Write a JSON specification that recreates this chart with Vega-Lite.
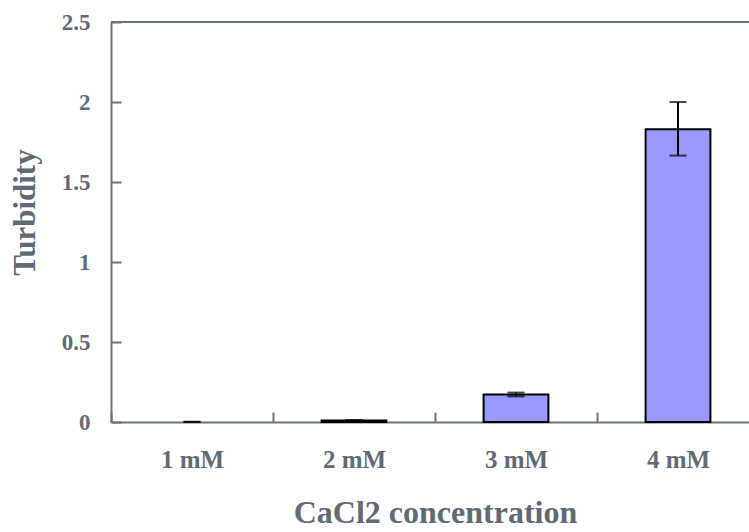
{
  "$schema": "https://vega.github.io/schema/vega-lite/v6.json",
  "width": 640,
  "height": 400,
  "autosize": {"type": "none"},
  "padding": {"left": 111, "top": 22, "right": 0, "bottom": 110},
  "background": "white",
  "config": {
    "view": {"stroke": null},
    "font": "Liberation Serif",
    "axis": {
      "domainColor": "#6b7580",
      "domainWidth": 2,
      "tickColor": "#6b7580",
      "tickWidth": 2,
      "grid": false,
      "labelFont": "Liberation Serif",
      "labelFontWeight": "bold",
      "labelColor": "#606b76",
      "titleFont": "Liberation Serif",
      "titleFontWeight": "bold",
      "titleColor": "#606b76"
    }
  },
  "data": {
    "values": [
      {"conc": "1 mM", "turbidity": null, "lo": 0.001, "hi": 0.001},
      {"conc": "2 mM", "turbidity": 0.01, "lo": 0.008, "hi": 0.012},
      {"conc": "3 mM", "turbidity": 0.172, "lo": 0.16, "hi": 0.184},
      {"conc": "4 mM", "turbidity": 1.83, "lo": 1.665, "hi": 2.0}
    ]
  },
  "layer": [
    {
      "mark": {"type": "bar", "color": "#9999ff", "stroke": "black", "strokeWidth": 2},
      "encoding": {
        "x": {
          "field": "conc", "type": "nominal", "sort": ["1 mM", "2 mM", "3 mM", "4 mM"],
          "scale": {"domain": ["1 mM", "2 mM", "3 mM", "4 mM"], "paddingInner": 0.6, "paddingOuter": 0.3, "range": [0, 648]},
          "axis": {
            "title": "CaCl2 concentration", "titleFontSize": 32, "titlePadding": 25,
            "labelFontSize": 25, "labelAngle": 0, "labelPadding": 35, "labelOffset": 81,
            "tickOffset": -81, "tickSize": -10
          }
        },
        "y": {
          "field": "turbidity", "type": "quantitative",
          "scale": {"domain": [0, 2.5], "nice": false},
          "axis": {
            "title": "Turbidity", "titleFontSize": 31, "titlePadding": 20, "titleY": 190,
            "labelFontSize": 23, "labelPadding": 31, "values": [0, 0.5, 1, 1.5, 2, 2.5],
            "format": "~g", "tickSize": -10
          }
        }
      }
    },
    {
      "mark": {"type": "errorbar", "ticks": {"size": 17, "thickness": 2, "color": "black"}, "rule": {"strokeWidth": 2, "color": "black"}},
      "encoding": {
        "x": {
          "field": "conc", "type": "nominal", "sort": ["1 mM", "2 mM", "3 mM", "4 mM"],
          "axis": {
            "title": "CaCl2 concentration", "titleFontSize": 32, "titlePadding": 25,
            "labelFontSize": 25, "labelAngle": 0, "labelPadding": 35, "labelOffset": 81,
            "tickOffset": -81, "tickSize": -10
          }
        },
        "y": {
          "field": "lo", "type": "quantitative",
          "axis": {
            "title": "Turbidity", "titleFontSize": 31, "titlePadding": 20, "titleY": 190,
            "labelFontSize": 23, "labelPadding": 31, "values": [0, 0.5, 1, 1.5, 2, 2.5],
            "format": "~g", "tickSize": -10
          }
        },
        "y2": {"field": "hi"}
      }
    },
    {
      "mark": {"type": "rule", "color": "#6b7580", "strokeWidth": 2},
      "encoding": {"y": {"datum": 2.5}}
    }
  ]
}
